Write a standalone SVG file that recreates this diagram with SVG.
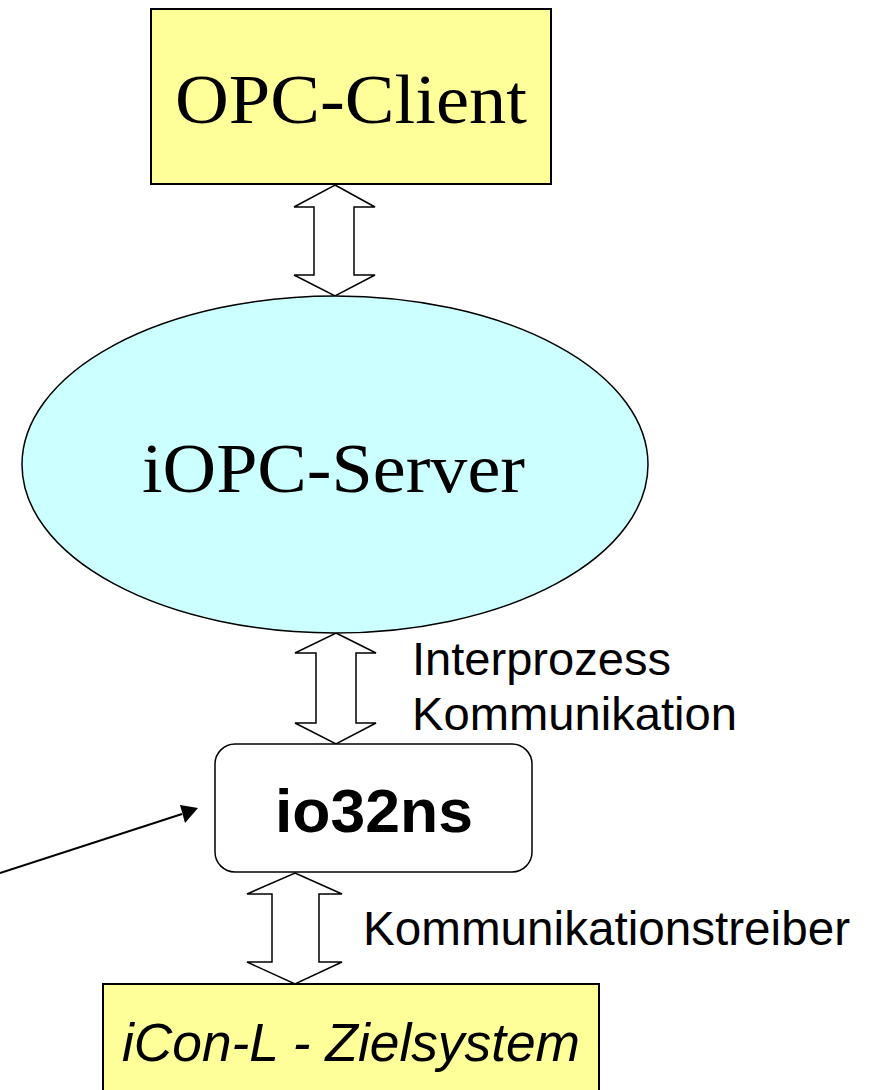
<svg xmlns="http://www.w3.org/2000/svg" width="869" height="1090" viewBox="0 0 869 1090">
<style>
.box{fill:#FFFF99;stroke:#000;stroke-width:2}
.ell{fill:#CCFFFF;stroke:#000;stroke-width:1.5}
.rbox{fill:#fff;stroke:#000;stroke-width:1.5}
.dbl{fill:#fff;stroke:#000;stroke-width:1.5;stroke-linejoin:miter}
.serif{font-family:"Liberation Serif","Times New Roman",serif;fill:#000}
.sans{font-family:"Liberation Sans",Arial,sans-serif;fill:#000}
</style>
<rect width="869" height="1090" fill="#fff"/>
<g id="connectors">
<polygon class="dbl" points="335,185 375,207 354,207 354,275 375,275 335,296 294,275 314,275 314,207 294,207"/>
<polygon class="dbl" points="336,633 376,653 356,653 356,723 376,723 336,744 295,723 316,723 316,653 295,653"/>
<polygon class="dbl" points="295,873 342,894 319,894 319,962 342,962 295,984 247,962 272,962 272,894 247,894"/>
<line x1="0" y1="873" x2="182" y2="814" stroke="#000" stroke-width="2"/>
<polygon points="198,808 180,805 185,823" fill="#000"/>
<text class="sans" x="412" y="675" font-size="46" textLength="259" lengthAdjust="spacingAndGlyphs">Interprozess</text>
<text class="sans" x="412" y="730" font-size="46" textLength="325" lengthAdjust="spacingAndGlyphs">Kommunikation</text>
<text class="sans" x="363" y="945" font-size="48" textLength="487" lengthAdjust="spacingAndGlyphs">Kommunikationstreiber</text>
</g>
<g id="opc-client">
<rect class="box" x="151" y="9" width="400" height="175"/>
<text class="serif" x="175" y="123" font-size="70" textLength="352" lengthAdjust="spacingAndGlyphs">OPC-Client</text>
</g>
<g id="iopc-server">
<ellipse class="ell" cx="335" cy="464.5" rx="313" ry="168.5"/>
<text class="serif" x="142" y="492" font-size="70" textLength="383" lengthAdjust="spacingAndGlyphs">iOPC-Server</text>
</g>
<g id="io32ns">
<rect class="rbox" x="215" y="744" width="317" height="128" rx="20" ry="20"/>
<text class="sans" x="275" y="832" font-size="61" font-weight="bold" textLength="198" lengthAdjust="spacingAndGlyphs">io32ns</text>
</g>
<g id="icon-l">
<rect class="box" x="103" y="984" width="496" height="120"/>
<text class="sans" x="122" y="1061" font-size="53" font-style="italic" textLength="458" lengthAdjust="spacingAndGlyphs">iCon-L - Zielsystem</text>
</g>
</svg>
